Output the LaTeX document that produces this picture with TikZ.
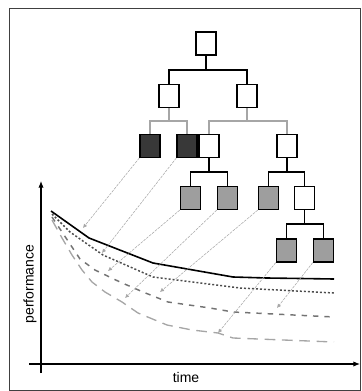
\documentclass[tikz,border=0pt]{standalone}
\usepackage{fontspec}
\setsansfont{Liberation Sans}
\usetikzlibrary{arrows.meta,calc}

\begin{document}
\begin{tikzpicture}[
  x=0.75pt, y=-0.75pt,
  box/.style={draw, line width=1.2pt, fill=white, inner sep=0pt,
    minimum width=15pt, minimum height=17pt},
  pruned/.style={box, fill=black!78},
  leaf/.style={box, fill=black!38},
  branch/.style={line width=1.2pt,
    to path={|- ($(\tikztostart)!.5!(\tikztotarget)$) -| (\tikztotarget)}},
  faded/.style={branch, draw=black!35},
  hint/.style={draw=black!35, line width=0.4pt, dash pattern=on 2pt off 0.8pt,
    -{Latex[length=3pt,width=3pt]}},
  axis/.style={line width=0.8pt, -{Latex[length=5pt,width=4pt]}},
  lbl/.style={font=\sffamily\fontsize{10.5}{12}\selectfont, inner sep=1pt},
  run/.style={line width=1.2pt, line join=round}
]
\useasboundingbox (0,0) rectangle (361,391);
\draw[black!75, line width=0.6pt] (9,8) rectangle (360,390);

% tree
\node[box] (root) at (206,43.5) {};
\node[box] (la) at (169,96) {};
\node[box] (lb) at (247,96) {};
\node[pruned] (da) at (150,146) {};
\node[pruned] (db) at (187,146) {};
\node[box] (wa) at (209,146) {};
\node[box] (wb) at (287,146) {};
\node[leaf] (ka) at (190.5,198) {};
\node[leaf] (kb) at (227.5,198) {};
\node[leaf] (kc) at (268.5,198) {};
\node[box] (wc) at (304.5,198) {};
\node[leaf] (ma) at (286.5,250.5) {};
\node[leaf] (mb) at (323.5,250.5) {};

\draw[branch] (root.south) to (la.north);
\draw[branch] (root.south) to (lb.north);
\draw[faded] (la.south) to (da.north);
\draw[faded] (la.south) to (db.north);
\draw[faded] (lb.south) to (wa.north);
\draw[faded] (lb.south) to (wb.north);
\draw[branch] (wa.south) to (ka.north);
\draw[branch] (wa.south) to (kb.north);
\draw[branch] (wb.south) to (kc.north);
\draw[branch] (wb.south) to (wc.north);
\draw[branch] (wc.south) to (ma.north);
\draw[branch] (wc.south) to (mb.north);

% axes
\coordinate (ybot) at (41,373);
\coordinate (ytop) at (41,181);
\coordinate (xleft) at (29,364);
\coordinate (xright) at (360,364);
\draw[axis] (ybot) -- (ytop);
\draw[axis] (xleft) -- (xright);
\node[lbl, rotate=90] (perf) at (30,284) {performance};
\node[lbl] (time) at (186,377) {time};

% learning curves
\draw[run, black] (51,211) -- (89,238) -- (153,263) -- (233,277) -- (267,278) -- (334,279);
\draw[run, black!70, line width=1.1pt, dash pattern=on 1.5pt off 1.5pt]
  (52,214) -- (70,232) -- (103,255) -- (153,277) -- (240,288) -- (334,293);
\draw[run, black!55, line width=1.1pt, dash pattern=on 4pt off 4.5pt]
  (52,217) -- (66,238) -- (80,259) -- (95,270) -- (120,282) -- (143,292)
  -- (168,302) -- (210,308) -- (233,312) -- (334,317);
\draw[run, black!35, line width=1pt, dash pattern=on 8pt off 5pt]
  (52,220) -- (62,238) -- (72,255) -- (82,270) -- (92,282) -- (105,292)
  -- (122,302) -- (138,313) -- (167,325) -- (192,330) -- (218,333)
  -- (233,338) -- (334,342);

% where each subtree lands
\coordinate (ea) at (83,228);
\coordinate (eb) at (102,253);
\coordinate (ec) at (108,271);
\coordinate (ed) at (125,298);
\coordinate (ee) at (160,292);
\coordinate (ef) at (218,333);
\coordinate (eg) at (277,308);
\draw[hint] (da.south west) -- (ea);
\draw[hint] (db.south west) -- (eb);
\draw[hint] (ka.south west) -- (ec);
\draw[hint] (kb.south west) -- (ed);
\draw[hint] (kc.south west) -- (ee);
\draw[hint] (ma.south west) -- (ef);
\draw[hint] (mb.south west) -- (eg);
\end{tikzpicture}
\end{document}
